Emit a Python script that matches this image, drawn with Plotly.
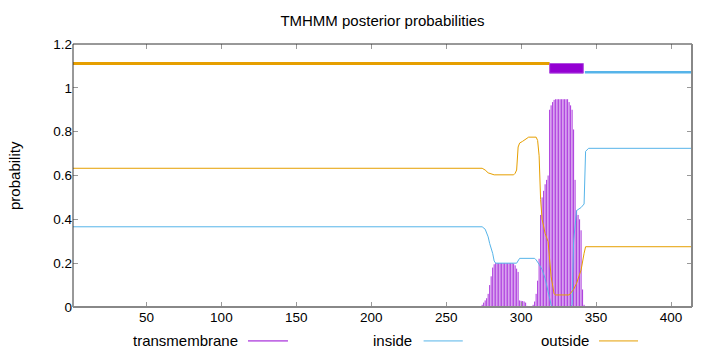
import plotly.graph_objects as go

# ---------------- data ----------------
seq_len = 414

# transmembrane posterior (impulses, one per residue)
tm_pos = list(range(274, 343))
tm_prob = [0.01, 0.02, 0.03, 0.04, 0.06, 0.10, 0.14, 0.18, 0.195, 0.20,
           0.20, 0.20, 0.20, 0.20, 0.20, 0.20, 0.20, 0.20, 0.20, 0.20,
           0.20, 0.198, 0.19, 0.175, 0.16, 0.03, 0.028, 0.027, 0.025, 0.02,
           0.005, 0.002, 0.002, 0.003, 0.01, 0.025, 0.06, 0.12, 0.22, 0.42,
           0.50, 0.53, 0.56, 0.58, 0.60, 0.90, 0.92, 0.935, 0.945, 0.948,
           0.948, 0.948, 0.948, 0.948, 0.948, 0.948, 0.948, 0.948, 0.935, 0.92,
           0.90, 0.81, 0.58, 0.44, 0.42, 0.40, 0.35, 0.08, 0.01]

# inside posterior
inside_pos = [1, 274, 276, 278, 279, 281, 282, 283, 297, 298, 299, 309, 310,
              312, 314, 316, 318, 319, 320, 321, 333, 334, 335, 336, 337,
              340, 342, 343, 345, 414]
inside_prob = [0.366, 0.366, 0.355, 0.32, 0.29, 0.245, 0.21, 0.20, 0.20, 0.21,
               0.222, 0.222, 0.215, 0.195, 0.17, 0.13, 0.078, 0.04, 0.01, 0.0,
               0.0, 0.01, 0.30, 0.39, 0.44, 0.454, 0.47, 0.71, 0.724, 0.724]

# outside posterior
outside_pos = [1, 274, 276, 278, 282, 295, 296, 297, 298, 299, 301, 303, 305,
               310, 311, 312, 313, 314, 316, 318, 319, 320, 322, 323, 332,
               335, 337, 340, 342, 343, 414]
outside_prob = [0.633, 0.633, 0.625, 0.612, 0.603, 0.603, 0.61, 0.625, 0.73,
                0.748, 0.756, 0.764, 0.775, 0.775, 0.76, 0.69, 0.49, 0.40,
                0.336, 0.298, 0.20, 0.138, 0.06, 0.055, 0.055, 0.08, 0.108,
                0.169, 0.245, 0.275, 0.275]

# predicted topology segments
region_type = ["outside", "TMhelix", "inside"]
region_start = [1, 319, 342.5]
region_end = [319, 341.5, 414]

x_ticks = [50, 100, 150, 200, 250, 300, 350, 400]
y_ticks = [0, 0.2, 0.4, 0.6, 0.8, 1.0, 1.2]
y_tick_text = ["0", "0.2", "0.4", "0.6", "0.8", "1", "1.2"]

# ---------------- styling ----------------
C_TM = "#9400d3"
C_IN = "#56b4e9"
C_OUT = "#e69f00"
FONT = "Liberation Sans"
TXT = 15
TICK = 13.5

fig = go.Figure()

# impulses for transmembrane
ix, iy = [], []
for p, v in zip(tm_pos, tm_prob):
    ix += [p, p, None]
    iy += [0, v, None]
fig.add_trace(go.Scatter(x=ix, y=iy, mode="lines",
                         line=dict(color=C_TM, width=0.8), hoverinfo="skip"))

fig.add_trace(go.Scatter(x=inside_pos, y=inside_prob, mode="lines",
                         line=dict(color=C_IN, width=1)))
fig.add_trace(go.Scatter(x=outside_pos, y=outside_prob, mode="lines",
                         line=dict(color=C_OUT, width=1)))

# topology bar on top
level = {"outside": 1.111, "inside": 1.071}
for t, s, e in zip(region_type, region_start, region_end):
    if t == "TMhelix":
        fig.add_trace(go.Scatter(x=[s, e, e, s, s],
                                 y=[1.067, 1.067, 1.111, 1.111, 1.067],
                                 mode="lines", fill="toself", fillcolor=C_TM,
                                 line=dict(color="#b050e0", width=1)))
    else:
        fig.add_trace(go.Scatter(x=[s, e], y=[level[t], level[t]], mode="lines",
                                 line=dict(color=C_OUT if t == "outside" else C_IN,
                                           width=3 if t == "outside" else 2.5)))

# frame
shapes = [
    dict(type="line", xref="paper", yref="paper", x0=0, x1=1, y0=1, y1=1,
         line=dict(color="#333333", width=1)),
    dict(type="line", xref="paper", yref="paper", x0=0, x1=0, y0=0, y1=1,
         line=dict(color="#333333", width=1)),
    dict(type="line", xref="paper", yref="paper", x0=1, x1=1, y0=0, y1=1,
         line=dict(color="#888888", width=2)),
    dict(type="line", xref="paper", yref="paper", x0=0, x1=1, y0=0, y1=0,
         line=dict(color="#888888", width=2)),
]

# custom legend (text, then sample line) like gnuplot
annotations = []
leg = [("transmembrane", C_TM, 0.2698, 0.2827, 0.3473),
       ("inside", C_IN, 0.5509, 0.5664, 0.6297),
       ("outside", C_OUT, 0.8363, 0.8498, 0.9128)]
ly = -0.129
for name, col, tx, l0, l1 in leg:
    annotations.append(dict(text=name, xref="paper", yref="paper", x=tx, y=ly,
                            xanchor="right", yanchor="middle", showarrow=False,
                            font=dict(family=FONT, size=TXT, color="#000")))
    shapes.append(dict(type="line", xref="paper", yref="paper", x0=l0, x1=l1,
                       y0=ly, y1=ly, line=dict(color=col, width=1)))

annotations.append(dict(text="probability", xref="paper", yref="paper",
                        x=-0.0937, y=0.502, textangle=-90, showarrow=False,
                        xanchor="center", yanchor="middle",
                        font=dict(family=FONT, size=TXT, color="#000")))

fig.update_layout(
    width=720, height=352,
    margin=dict(l=73, r=28, t=44, b=45),
    paper_bgcolor="white", plot_bgcolor="white",
    showlegend=False,
    title=dict(text="TMHMM posterior probabilities", x=0.5, xref="paper",
               y=1 - 21 / 352, yanchor="middle", xanchor="center",
               font=dict(family=FONT, size=TXT, color="#000")),
    shapes=shapes, annotations=annotations,
    font=dict(family=FONT, size=TXT, color="#000"),
)
fig.update_xaxes(range=[1, seq_len], tickvals=x_ticks, ticks="inside",
                 ticklen=5, tickcolor="#999999", mirror="ticks",
                 showline=False, showgrid=False, zeroline=False,
                 tickfont=dict(family=FONT, size=TICK, color="#000"))
fig.update_yaxes(range=[0, 1.2], tickvals=y_ticks, ticktext=y_tick_text,
                 ticks="inside", ticklen=5, tickcolor="#999999", mirror="ticks",
                 showline=False, showgrid=False, zeroline=False,
                 tickfont=dict(family=FONT, size=TICK, color="#000"))

fig.write_html("out.html")
